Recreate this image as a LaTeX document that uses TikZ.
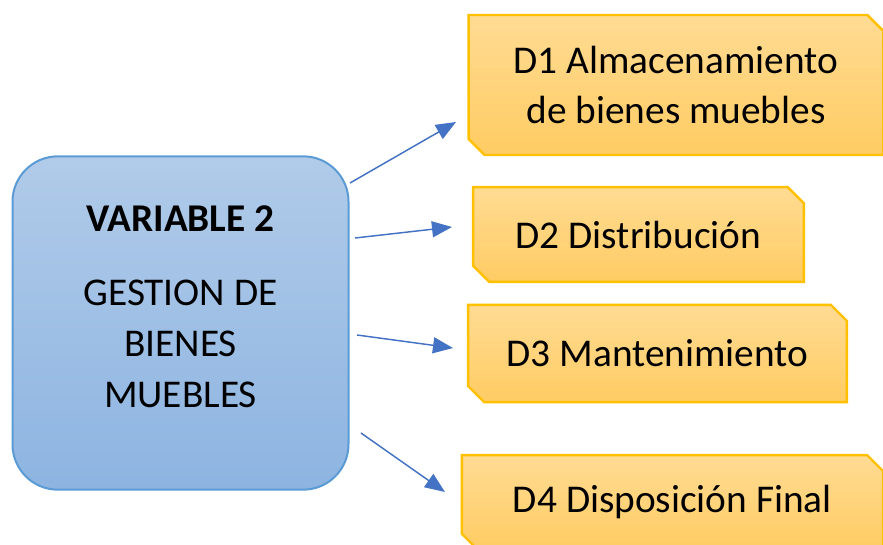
\documentclass[tikz,border=0pt]{standalone}
\usepackage{fontspec}
\setmainfont{Carlito}
\usetikzlibrary{arrows.meta, shapes.misc, positioning}

\definecolor{varfill1}{HTML}{B1CBE9}
\definecolor{varfill2}{HTML}{8DB4E1}
\definecolor{varline}{HTML}{5B9BD5}
\definecolor{dimfill1}{HTML}{FFDB93}
\definecolor{dimfill2}{HTML}{FFCC63}
\definecolor{dimline}{HTML}{FFC000}
\definecolor{arrowblue}{HTML}{4472C4}

\tikzset{
    varbox/.style={rectangle, rounded corners=34pt, draw=varline, line width=1.5pt,
        top color=varfill1, bottom color=varfill2, align=center, inner sep=0pt,
        minimum width=252pt, minimum height=250pt},
    dimbox/.style={chamfered rectangle, chamfered rectangle corners={north east, south west},
        chamfered rectangle xsep=6pt, chamfered rectangle ysep=6pt,
        draw=dimline, line width=1.8pt, top color=dimfill1, bottom color=dimfill2,
        align=center, inner sep=0pt},
    arr/.style={draw=arrowblue, line width=1.1pt, -{Triangle[length=15pt,width=12pt]}, fill=arrowblue}
}

\begin{document}
\begin{tikzpicture}[x=0.75pt, y=-0.75pt]
    \useasboundingbox (0,0) rectangle (883,544);
    \fontsize{29.5}{36}\selectfont

    \node[varbox, text depth=25pt] (var) at (180.5,323)
        {{\bfseries VARIABLE 2}\\[20pt] GESTION DE\\[2pt] BIENES\\[2pt] MUEBLES};

    \node[dimbox, minimum width=311pt, minimum height=105pt] (d1) at (676,85)
        {D1 Almacenamiento\\[2pt] de bienes muebles};
    \node[dimbox, minimum width=248pt, minimum height=71pt] (d2) at (638.5,234.5) {D2 Distribución};
    \node[dimbox, minimum width=284pt, minimum height=73pt] (d3) at (657.5,353.5) {D3 Mantenimiento};
    \node[dimbox, minimum width=316pt, minimum height=71pt] (d4) at (672.5,502.5) {D4 Disposición Final};

    \coordinate (s1) at (350,183);  \coordinate (e1) at (456,122);
    \coordinate (s2) at (355,238);  \coordinate (e2) at (452,227);
    \coordinate (s3) at (357,335);  \coordinate (e3) at (453,348);
    \coordinate (s4) at (361,433);  \coordinate (e4) at (445,492);

    \draw[arr] (s1) -- (e1);
    \draw[arr] (s2) -- (e2);
    \draw[arr] (s3) -- (e3);
    \draw[arr] (s4) -- (e4);
\end{tikzpicture}
\end{document}
